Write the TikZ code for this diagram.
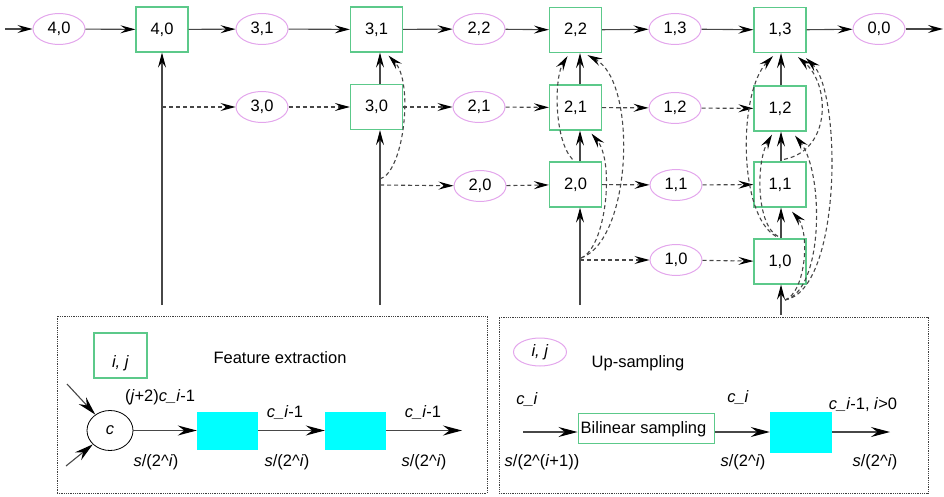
\documentclass[tikz,border=0pt]{standalone}
\usepackage{fontspec}
\setmainfont{Liberation Sans}
\usetikzlibrary{shapes.geometric,arrows.meta}
\definecolor{ellc}{HTML}{E3A6EC}
\definecolor{boxc}{HTML}{5CC98A}
\definecolor{linec}{HTML}{474747}
\definecolor{cyanc}{HTML}{00FFFF}
\begin{document}
\begin{tikzpicture}[x=1pt,y=-1pt,
  font=\fontsize{16.5}{19}\selectfont,
  ell/.style={ellipse,draw=ellc,line width=1pt,minimum width=52pt,minimum height=31pt,inner sep=0pt},
  fbox/.style={draw=boxc,line width=1.2pt,minimum width=52pt,minimum height=45pt,inner sep=0pt},
  con/.style={draw=linec,line width=1.1pt,-{Stealth[length=15pt,width=8pt,inset=5.5pt,black]}},
  dcon/.style={con,dash pattern=on 4pt off 3pt},
  pcon/.style={draw=linec,line width=1.1pt,-{Stealth[length=19pt,width=10pt,inset=6.5pt,black]}},
  panel/.style={draw=black!75,line width=0.8pt,densely dotted,inner sep=0pt},
  cy/.style={fill=cyanc,draw=none,minimum width=61pt,minimum height=38pt,inner sep=0pt},
  lab/.style={inner sep=0pt}
]
\useasboundingbox (0,0) rectangle (944,497);

% ---------- top row ----------
\coordinate (in) at (5,29);
\node[ell]  (e40) at (59,29) {4,0};
\node[fbox] (b40) at (162,29.5) {4,0};
\node[ell]  (e31) at (262,29) {3,1};
\node[fbox] (b31) at (376.5,29.5) {3,1};
\node[ell]  (e22) at (479,29) {2,2};
\node[fbox] (b22) at (575.5,30) {2,2};
\node[ell]  (e13) at (675,29) {1,3};
\node[fbox] (b13) at (780,30) {1,3};
\node[ell]  (e00) at (879,29) {0,0};
\coordinate (out) at (943,29);

% ---------- second row ----------
\node[ell]  (e30) at (262,107) {3,0};
\node[fbox] (b30) at (376.5,107) {3,0};
\node[ell]  (e21) at (479,107) {2,1};
\node[fbox] (b21) at (575.5,107.5) {2,1};
\node[ell]  (e12) at (675,108) {1,2};
\node[fbox] (b12) at (780,108.5) {1,2};

% ---------- third row ----------
\node[ell]  (e20) at (480,186) {2,0};
\node[fbox] (b20) at (575.5,184.5) {2,0};
\node[ell]  (e11) at (676,185) {1,1};
\node[fbox] (b11) at (780,184.5) {1,1};

% ---------- fourth row ----------
\node[ell]  (e10) at (676,260) {1,0};
\node[fbox] (b10) at (780,261.5) {1,0};

% ---------- feet and junctions ----------
\coordinate (f40) at (162,305);
\coordinate (f30) at (380,305);
\coordinate (f20) at (580,305);
\coordinate (f10) at (781,315);
\coordinate (j40) at (162,107);
\coordinate (j30) at (380,185);
\coordinate (j30c) at (380,179);
\coordinate (j20) at (580,260);
\coordinate (j20c) at (581,258);
\coordinate (j10) at (785,300);

% top row chain
\draw[con] (in) -- (e40);
\draw[con] (e40) -- (b40);
\draw[con] (b40) -- (e31);
\draw[con] (e31) -- (b31);
\draw[con] (b31) -- (e22);
\draw[con] (e22) -- (b22);
\draw[con] (b22) -- (e13);
\draw[con] (e13) -- (b13);
\draw[con] (b13) -- (e00);
\draw[con] (e00) -- (out);

% column 4
\draw[con] (f40) -- (b40);
\draw[dcon] (j40) -- (e30);
\draw[dcon] (e30) -- (b30);
\draw[dcon] (b30) -- (e21);
\draw[dcon] (e21) -- (b21);
\draw[dcon] (b21) -- (e12);
\draw[dcon] (e12) -- (b12);

% column 3
\draw[con] (f30) -- (f30 |- b30.south);
\draw[con] (f30 |- b30.north) -- (f30 |- b31.south);
\draw[dcon] (j30) -- (e20);
\draw[dcon] (e20) -- (b20);
\draw[dcon] (b20) -- (e11);
\draw[dcon] (e11) -- (b11);
\draw[dcon] (j30c) .. controls (404,172) and (414,82) .. ([xshift=12pt,yshift=-3pt]b31.south);

% column 2
\draw[con] (f20) -- (f20 |- b20.south);
\draw[con] (f20 |- b20.north) -- (f20 |- b21.south);
\draw[con] (f20 |- b21.north) -- (f20 |- b22.south);
\draw[dcon] (j20) -- (e10);
\draw[dcon] (e10) -- (b10);
\draw[dcon] (j20c) .. controls (606,248) and (615,162) .. ([xshift=16pt,yshift=-3pt]b21.south);
\draw[dcon] (j20c) .. controls (632,240) and (638,82) .. ([xshift=12pt,yshift=-2pt]b22.south);
\draw[dcon] ([xshift=-3pt,yshift=2pt]b20.north) .. controls (554,140) and (554,78) .. ([xshift=-8pt,yshift=-3pt]b22.south);

% column 1
\draw[con] (f10) -- (f10 |- b10.south);
\draw[con] (f10 |- b10.north) -- (f10 |- b11.south);
\draw[con] (f10 |- b11.north) -- (f10 |- b12.south);
\draw[con] (f10 |- b12.north) -- (f10 |- b13.south);
\draw[dcon] ([xshift=-4pt,yshift=2pt]b10.north) .. controls (738,215) and (738,92) .. ([xshift=-7pt,yshift=-3pt]b13.south);
\draw[dcon] ([xshift=-2pt,yshift=2pt]b10.north) .. controls (756,225) and (756,162) .. ([xshift=-8pt,yshift=-3pt]b12.south);
\draw[dcon] ([xshift=4pt,yshift=2pt]b11.north) .. controls (832,150) and (830,84) .. ([xshift=18pt,yshift=-4pt]b13.south);
\draw[dcon] (j10) .. controls (806,292) and (810,232) .. ([xshift=12pt,yshift=-4pt]b11.south);
\draw[dcon] (j10) .. controls (824,290) and (824,172) .. ([xshift=15pt,yshift=-4pt]b12.south);
\draw[dcon] (j10) .. controls (842,290) and (842,92) .. ([xshift=26pt,yshift=-5pt]b13.south);

% ---------- left panel ----------
\node[panel,minimum width=430pt,minimum height=177pt] (lp) at (272,404.5) {};
\node[fbox,minimum width=53pt,minimum height=45pt] (kb) at (120.5,355.5) {};
\node[lab] (kbt) at ([yshift=-8pt]kb.center) {\textit{i, j}};
\node[lab] (fe) at (280,358) {Feature extraction};
\node[ellipse,draw=black,line width=0.8pt,minimum width=46pt,minimum height=40pt,inner sep=0pt] (cc) at (110,430.5) {\textit{c}};
\coordinate (ca1) at (67,384);
\coordinate (ca2) at (66,466);
\draw[pcon] (ca1) -- (cc);
\draw[pcon] (ca2) -- (cc);
\node[cy] (k1) at (227.5,430.5) {};
\node[cy] (k2) at (355.5,430.5) {};
\coordinate (ko) at (462,430.5);
\draw[pcon] (cc) -- (k1);
\draw[pcon] (k1) -- (k2);
\draw[pcon] (k2) -- (ko);
\node[lab] (l1) at (160,397) {(\textit{j}+2)\textit{c\_i}-1};
\node[lab] (l2) at (156,462) {\textit{s}/(2\textasciicircum\textit{i})};
\node[lab] (l3) at (285,413) {\textit{c\_i}-1};
\node[lab] (l4) at (287,462) {\textit{s}/(2\textasciicircum\textit{i})};
\node[lab] (l5) at (423,413) {\textit{c\_i}-1};
\node[lab] (l6) at (424,462) {\textit{s}/(2\textasciicircum\textit{i})};

% ---------- right panel ----------
\node[panel,minimum width=429pt,minimum height=176pt] (rp) at (713.5,405) {};
\node[ell,minimum width=53pt,minimum height=28pt] (ke) at (540,352) {\textit{i, j}};
\node[lab] (us) at (638,363) {Up-sampling};
\node[lab] (c1) at (527,400) {\textit{c\_i}};
\coordinate (ri) at (523,432);
\node[fbox,line width=1pt,minimum width=136pt,minimum height=30pt] (bs) at (646,428) {};
\node[lab,anchor=west] (bst) at ([xshift=3pt,yshift=-1.5pt]bs.west) {Bilinear sampling};
\node[cy,minimum width=62pt,minimum height=41pt] (k3) at (801,432.5) {};
\coordinate (ro) at (890,432);
\draw[pcon] (ri) -- (ri -| bs.west);
\draw[pcon] (ri -| bs.east) -- (ri -| k3.west);
\draw[pcon] (ri -| k3.east) -- (ro);
\node[lab] (c2) at (738,398) {\textit{c\_i}};
\node[lab] (c3) at (863,405) {\textit{c\_i}-1, \textit{i}>0};
\node[lab] (s1) at (542,462) {\textit{s}/(2\textasciicircum(\textit{i}+1))};
\node[lab] (s2) at (743,462) {\textit{s}/(2\textasciicircum\textit{i})};
\node[lab] (s3) at (875,462) {\textit{s}/(2\textasciicircum\textit{i})};
\end{tikzpicture}
\end{document}
